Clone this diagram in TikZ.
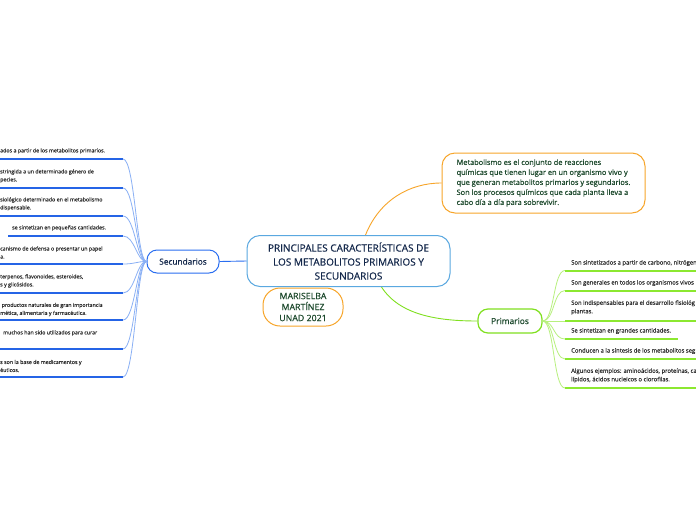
\documentclass[tikz,border=0pt]{standalone}
\usepackage{fontspec}
\setmainfont{Open Sans}
\newfontfamily\medfont{Open Sans}[FakeBold=0.6]
\newfontfamily\smfont{Open Sans}[FakeBold=0.3]
\definecolor{itemtext}{HTML}{2E2E2E}
\definecolor{navy}{HTML}{14284B}
\definecolor{dkgreen}{HTML}{1E4A2E}
\definecolor{cenblue}{HTML}{5AA8E0}
\definecolor{secblue}{HTML}{2A6EF0}
\definecolor{ulblue}{HTML}{2564E6}
\definecolor{conblue}{HTML}{8AB0F5}
\definecolor{orng}{HTML}{F7A52A}
\definecolor{grn}{HTML}{80E020}
\definecolor{ulgreen}{HTML}{8CE830}
\definecolor{congreen}{HTML}{B8F07E}
\begin{document}
\begin{tikzpicture}[x=1pt,y=-1pt,
  smalltxt/.style={font=\smfont\fontsize{5.3}{8}\selectfont, text=itemtext, inner sep=0pt, align=left, anchor=west},
  righttxt/.style={smalltxt, font=\smfont\fontsize{5.9}{8.5}\selectfont},
  leftul/.style={draw=ulblue, line width=1.5pt},
  leftcon/.style={draw=conblue, line width=0.8pt},
  rightul/.style={draw=ulgreen, line width=2pt},
  rightcon/.style={draw=congreen, line width=0.8pt},
  bubble/.style={draw, fill=white, line width=1pt, inner sep=0pt, align=center}
]
\useasboundingbox (0,0) rectangle (696,520);
\fill[white] (0,0) rectangle (696,520);
\clip (0,0) rectangle (696,520);

% main nodes
\node[bubble, draw=cenblue, rounded corners=13pt, minimum width=203pt, minimum height=51pt,
      font=\medfont\fontsize{10}{14}\selectfont, text=navy] (central) at (348.5,261)
  {PRINCIPALES CARACTERÍSTICAS DE\\LOS METABOLITOS PRIMARIOS Y\\SECUNDARIOS};
\node[bubble, draw=secblue, rounded corners=10pt, minimum width=72pt, minimum height=23pt,
      font=\medfont\fontsize{8.3}{10}\selectfont, text=navy] (sec) at (183,261.5) {Secundarios};
\node[bubble, draw=orng, rounded corners=17pt, minimum width=80pt, minimum height=38pt,
      font=\medfont\fontsize{8.8}{11}\selectfont, text=dkgreen] (autor) at (303,307)
  {MARISELBA\\MARTÍNEZ\\UNAD 2021};
\node[bubble, draw=orng, rounded corners=13pt, minimum width=203pt, minimum height=60pt,
      font=\medfont\fontsize{7.4}{10}\selectfont, text=dkgreen, align=left] (def) at (543.5,183)
  {Metabolismo es el conjunto de reacciones\\químicas que tienen lugar en un organismo vivo y\\que generan metabolitos primarios y segundarios.\\Son los procesos químicos que cada planta lleva a\\cabo día a día para sobrevivir.};
\node[bubble, draw=grn, line width=1.2pt, rounded corners=10pt, minimum width=64pt, minimum height=24pt,
      font=\medfont\fontsize{8.4}{10}\selectfont, text=dkgreen] (prim) at (510,321) {Primarios};

% main connectors
\draw[secblue, line width=0.9pt] (sec.east) -- (central.west);
\draw[orng, line width=0.9pt] ([xshift=17pt]central.north) .. controls +(14,-35) and +(-32,0) .. (def.west);
\draw[grn, line width=0.9pt] ([xshift=33pt]central.south) .. controls +(18,28) and +(-40,0) .. (prim.west);

% left items
\node[smalltxt] (l1) at (0,151) {ados a partir de los metabolitos primarios.};
\node[smalltxt] (l2) at (0,176) {stringida a un determinado género de\\pecies.};
\node[smalltxt] (l3) at (0,204) {siológico determinado en el metabolismo\\dispensable.};
\node[smalltxt] (l4) at (12,228) {se sintetizan en pequeñas cantidades.};
\node[smalltxt] (l5) at (0,252.5) {canismo de defensa o presentar un papel\\a.};
\node[smalltxt] (l6) at (0,281) {terpenos, flavonoides, esteroides,\\s y glicósidos.};
\node[smalltxt] (l7) at (0,309.5) {\hspace{1.5pt}productos naturales de gran importancia\\mética, alimentaria y farmacéutica.};
\node[smalltxt] (l8) at (3,333) {muchos han sido utilizados para curar};
\node[smalltxt] (l9) at (0,366) {s son la base de medicamentos y\\éuticos.};

\foreach \n/\y/\s in {1/159/-3, 2/188/-3, 3/216/-3, 4/236/8, 5/264/-3, 6/293/-3, 7/320/-3, 8/349/-3, 9/377/-3}{
  \coordinate (la\n) at (\s,\y);
  \coordinate (lb\n) at (123,\y);
  \draw[leftul] (la\n) -- (lb\n);
  \draw[leftcon] (lb\n) .. controls +(12,0) and +(-10,0) .. (sec.west);
}

% right items
\node[righttxt] (r1) at (571,263) {Son sintetizados a partir de carbono, nitrógen};
\node[righttxt] (r2) at (571,283) {Son generales en todos los organismos vivos};
\node[righttxt] (r3) at (571,307.5) {Son indispensables para el desarrollo fisiológ\\plantas.};
\node[righttxt] (r4) at (571,331) {Se sintetizan en grandes cantidades.};
\node[righttxt] (r5) at (571,351) {Conducen a la síntesis de los metabolitos seg};
\node[righttxt] (r6) at (571,375.5) {Algunos ejemplos: aminoácidos, proteínas, ca\\lípidos, ácidos nucleicos o clorofilas.};

\foreach \n/\y/\e in {1/270.5/700, 2/290.5/700, 3/321/700, 4/339/678, 5/359/700, 6/388/700}{
  \coordinate (ra\n) at (565,\y);
  \coordinate (rb\n) at (\e,\y);
  \draw[rightul] (ra\n) -- (rb\n);
  \draw[rightcon] (prim.east) .. controls +(12,0) and +(-12,0) .. (ra\n);
}
\end{tikzpicture}
\end{document}
